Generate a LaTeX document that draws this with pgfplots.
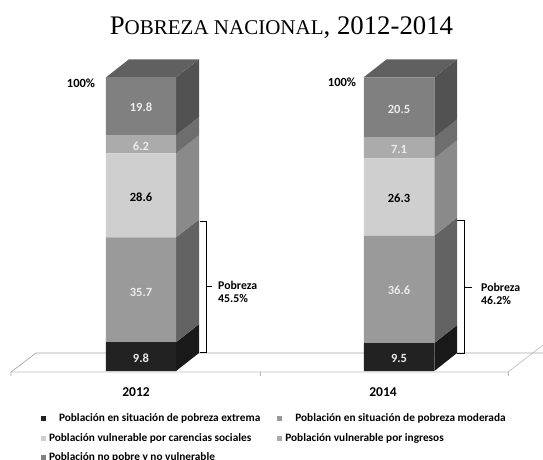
\documentclass[border=0pt]{standalone}
\usepackage{fontspec}
\setmainfont{Carlito}
\newfontfamily\titlefont{Liberation Serif}
\usepackage{pgfplots}
\pgfplotsset{compat=1.18}
\definecolor{cA}{HTML}{222222}\definecolor{cB}{HTML}{9A9A9A}\definecolor{cC}{HTML}{CFCFCF}\definecolor{cD}{HTML}{ABABAB}\definecolor{cE}{HTML}{808080}
\definecolor{sA}{HTML}{191919}\definecolor{sB}{HTML}{636363}\definecolor{sC}{HTML}{8A8A8A}\definecolor{sD}{HTML}{6E6E6E}\definecolor{sE}{HTML}{525252}
\definecolor{tp}{HTML}{606060}
\pgfplotsset{
 base/.style={at={(0pt,0pt)},anchor=south west,scale only axis,width=543pt,height=459pt,hide axis,xmin=0,xmax=543,clip=false},
 pix/.style={base,ymin=0,ymax=459,y dir=reverse},
 pct/.style={base,ymin=-29.96,ymax=126.32},
}
\begin{document}
\begin{tikzpicture}
\useasboundingbox (0pt,0pt) rectangle (543pt,459pt);
\clip (0pt,0pt) rectangle (543pt,459pt);
\begin{axis}[pix]
\addplot[draw=gray!70,line width=0.7pt] coordinates {(11,376)(11,372)(36,353)(543,353)};
\addplot[draw=gray!50,line width=0.7pt] coordinates {(11,372)(508,372)(543,345)};
\addplot[draw=gray!60,line width=0.7pt] coordinates {(260,372)(260,376)};
\addplot[draw=gray!60,line width=0.7pt] coordinates {(508,372)(508,376)};
\end{axis}
\begin{axis}[pct]
% 2012 side faces (cumulative percentages)
\addplot[fill=sA,draw=none] coordinates {(176,0)(199,6.13)(199,15.93)(176,9.8)} --cycle;
\addplot[fill=sB,draw=none] coordinates {(176,9.8)(199,15.93)(199,51.63)(176,45.5)} --cycle;
\addplot[fill=sC,draw=none] coordinates {(176,45.5)(199,51.63)(199,80.23)(176,74.1)} --cycle;
\addplot[fill=sD,draw=none] coordinates {(176,74.1)(199,80.23)(199,86.43)(176,80.3)} --cycle;
\addplot[fill=sE,draw=none] coordinates {(176,80.3)(199,86.43)(199,106.13)(176,100)} --cycle;
\addplot[fill=tp,draw=none] coordinates {(106,100)(129,106.13)(199,106.13)(176,100)} --cycle;
% 2014 side faces
\addplot[fill=sA,draw=none] coordinates {(434.3,0)(457,6.13)(457,15.63)(434.3,9.5)} --cycle;
\addplot[fill=sB,draw=none] coordinates {(434.3,9.5)(457,15.63)(457,52.23)(434.3,46.1)} --cycle;
\addplot[fill=sC,draw=none] coordinates {(434.3,46.1)(457,52.23)(457,78.53)(434.3,72.4)} --cycle;
\addplot[fill=sD,draw=none] coordinates {(434.3,72.4)(457,78.53)(457,85.63)(434.3,79.5)} --cycle;
\addplot[fill=sE,draw=none] coordinates {(434.3,79.5)(457,85.63)(457,106.13)(434.3,100)} --cycle;
\addplot[fill=tp,draw=none] coordinates {(363.7,100)(386.7,106.13)(457,106.13)(434.3,100)} --cycle;
\end{axis}
\begin{axis}[pct,ybar stacked,bar width=70.3pt,
 legend columns=2,
 legend style={at={(axis cs:41,-14.6)},anchor=north west,draw=none,fill=none,font=\bfseries\fontsize{11.3}{12}\selectfont,inner sep=0pt,outer sep=0pt,
   /tikz/every even column/.style={column sep=17pt},row sep=10pt,nodes={inner sep=0pt,outer sep=0pt}},
 legend cell align=left,
 legend image code/.code={\fill[#1] (0pt,-2.5pt) rectangle (5pt,2.5pt);},
]
\addplot[fill=cA,draw=none] coordinates {(141,9.8)(399,9.5)};
\addlegendentry{\hspace*{13pt}Población en situación de pobreza extrema}
\addplot[fill=cB,draw=none] coordinates {(141,35.7)(399,36.6)};
\addlegendentry{\hspace*{13pt}Población en situación de pobreza moderada}
\addplot[fill=cC,draw=none] coordinates {(141,28.6)(399,26.3)};
\addlegendentry{\hspace*{3pt}Población vulnerable por carencias sociales}
\addplot[fill=cD,draw=none] coordinates {(141,6.2)(399,7.1)};
\addlegendentry{\hspace*{3pt}Población vulnerable por ingresos}
\addplot[fill=cE,draw=none] coordinates {(141,19.8)(399,20.5)};
\addlegendentry{\hspace*{3pt}Población no pobre y no vulnerable}
\end{axis}
\begin{axis}[pix]
\addplot[draw=black,line width=0.9pt] coordinates {(200,221)(206,221)(206,352)(200,352)};
\addplot[draw=black,line width=0.9pt] coordinates {(206,286)(212,286)};
\addplot[draw=black,line width=0.9pt] coordinates {(457,220)(464,220)(464,353)(457,353)};
\addplot[draw=black,line width=0.9pt] coordinates {(464,287)(472,287)};
\tikzset{lab/.style={font=\bfseries\fontsize{12.5}{14}\selectfont,inner sep=0pt}}
\node[lab,text=white!92!black] at (axis cs:141,107.5) {19.8};
\node[lab,text=white!92!black] at (axis cs:141,146) {6.2};
\node[lab] at (axis cs:141,197) {28.6};
\node[lab,text=white!92!black] at (axis cs:141,292) {35.7};
\node[lab,text=white!92!black] at (axis cs:141,358) {9.8};
\node[lab,text=white!92!black] at (axis cs:399,109) {20.5};
\node[lab,text=white!92!black] at (axis cs:399,149) {7.1};
\node[lab] at (axis cs:399,198) {26.3};
\node[lab,text=white!92!black] at (axis cs:399,290) {36.6};
\node[lab,text=white!92!black] at (axis cs:399,358) {9.5};
\node[lab,font=\bfseries\fontsize{12.5}{14}\selectfont] at (axis cs:81,83) {100\%};
\node[lab,font=\bfseries\fontsize{12.5}{14}\selectfont] at (axis cs:342,82) {100\%};
\node[lab,font=\bfseries\fontsize{11.8}{12.5}\selectfont,align=left,anchor=west] at (axis cs:218,292) {Pobreza\\45.5\%};
\node[lab,font=\bfseries\fontsize{11.8}{12.5}\selectfont,align=left,anchor=west] at (axis cs:481,294) {Pobreza\\46.2\%};
\node[lab,font=\bfseries\fontsize{13.5}{15}\selectfont] at (axis cs:136,392) {2012};
\node[lab,font=\bfseries\fontsize{13.5}{15}\selectfont] at (axis cs:383,392) {2014};
\node[inner sep=0pt,font=\titlefont\fontsize{26.8}{28}\selectfont,anchor=base] at (axis cs:281.5,34) {P{\fontsize{21}{23}\selectfont OBREZA NACIONAL}, 2012-2014};
\end{axis}
\end{tikzpicture}
\end{document}
